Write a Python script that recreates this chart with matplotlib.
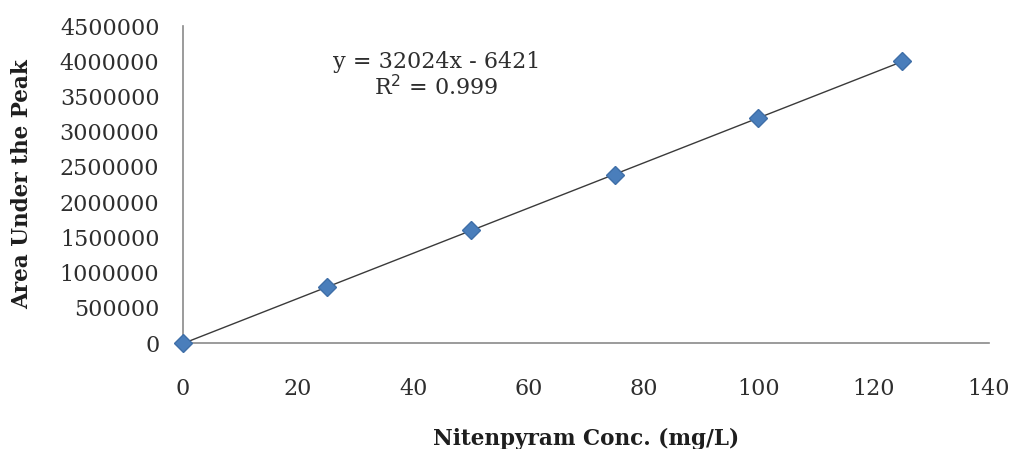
import numpy as np
import matplotlib
matplotlib.use("Agg")
import matplotlib.pyplot as plt
import matplotlib.ticker as mticker

# calibration data
conc = [0, 25, 50, 75, 100, 125]
area = [0, 790000, 1600000, 2380000, 3200000, 4000000]
slope, intercept = 32024, -6421
r_squared = 0.999

x_ticks = [0, 20, 40, 60, 80, 100, 120, 140]
y_ticks = [0, 500000, 1000000, 1500000, 2000000, 2500000, 3000000, 3500000, 4000000, 4500000]

plt.rcParams["font.family"] = ["DejaVu Serif"]

fig = plt.figure(figsize=(10.14, 4.49), dpi=100)
ax = fig.add_axes([0.1805, 0.236, 0.7945, 0.706])

# linear trendline
xs = np.array([conc[0], conc[-1]])
ax.plot(xs, slope * xs + intercept, color="#3a3a3a", linewidth=1.0, zorder=2)
ax.plot(conc, area, linestyle="none", marker="D", markersize=9,
        color="#4A7EBB", markeredgecolor="#3F6FA8", zorder=3, clip_on=False)

ax.set_xlim(0, 140)
ax.set_ylim(0, 4500000)
ax.set_xticks(x_ticks)
ax.set_yticks(y_ticks)
ax.yaxis.set_major_formatter(mticker.FuncFormatter(lambda v, _: f"{v:.0f}"))
ax.tick_params(length=0, labelsize=16, colors="#2e2e2e")
ax.tick_params(axis="y", pad=17)
ax.tick_params(axis="x", pad=25)

for side in ["top", "right"]:
    ax.spines[side].set_visible(False)
for side in ["left", "bottom"]:
    ax.spines[side].set_color("#8a8a8a")
    ax.spines[side].set_linewidth(1.2)

ax.set_xlabel("Nitenpyram Conc. (mg/L)", fontsize=15.5, fontweight="bold",
              labelpad=20, color="#1e1e1e")
ax.set_ylabel("Area Under the Peak", fontsize=15.5, fontweight="bold",
              labelpad=19, color="#1e1e1e")

ax.text(44, 3990000, f"y = {slope}x - {abs(intercept)}", ha="center", va="center",
        fontsize=16, color="#2e2e2e")
ax.text(44, 3620000, f"R$^2$ = {r_squared}", ha="center", va="center",
        fontsize=16, color="#2e2e2e")

fig.savefig("out.png", dpi=100)
